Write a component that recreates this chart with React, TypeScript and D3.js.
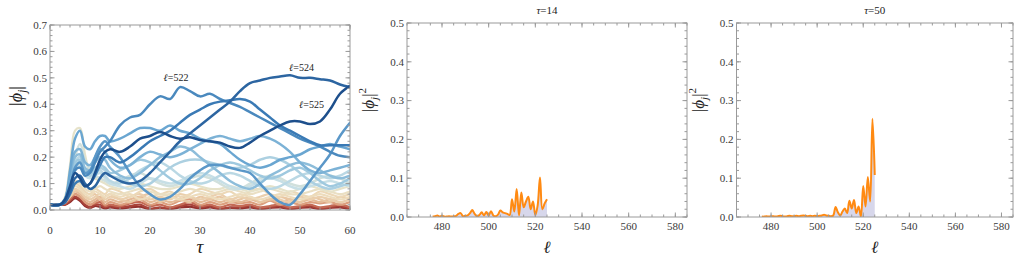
import React from 'react';
import * as d3 from 'd3';

// ---------- data ----------
const TAU = [0, 2, 3, 4, 5, 6, 7, 8, 9, 10, 11, 12, 14, 16, 18, 20, 22, 24, 26, 28, 30, 32, 34, 36, 38, 40, 42, 44, 46, 48, 50, 52, 54, 56, 58, 60];

const L525 = [0.02,0.02,0.04,0.09,0.14,0.12,0.09,0.10,0.14,0.19,0.22,0.23, 0.22,0.24,0.27,0.28,0.295,0.28,0.27,0.275,0.265,0.26, 0.255,0.24,0.235,0.255,0.28,0.30,0.32,0.335,0.335,0.325, 0.335,0.38,0.44,0.47];
const L524 = [0.02,0.02,0.03,0.07,0.12,0.13,0.10,0.08,0.09,0.12,0.14,0.13, 0.11,0.10,0.11,0.14,0.18,0.22,0.26,0.29,0.32,0.35, 0.38,0.41,0.45,0.48,0.49,0.50,0.505,0.51,0.50,0.50, 0.495,0.49,0.475,0.465];
const L523 = [0.02,0.02,0.03,0.06,0.10,0.11,0.09,0.10,0.13,0.17,0.20,0.20, 0.18,0.20,0.23,0.26,0.28,0.30,0.33,0.36,0.38,0.40, 0.41,0.415,0.42,0.41,0.38,0.35,0.32,0.30,0.28,0.26, 0.245,0.245,0.245,0.245];
const L522 = [0.02,0.02,0.03,0.08,0.15,0.16,0.13,0.14,0.18,0.22,0.24,0.26, 0.32,0.35,0.36,0.40,0.43,0.42,0.465,0.45,0.43,0.44, 0.42,0.405,0.39,0.37,0.35,0.33,0.31,0.29,0.27,0.255, 0.24,0.22,0.205,0.20];
const L521 = [0.02,0.02,0.03,0.08,0.16,0.18,0.14,0.15,0.20,0.24,0.26,0.24, 0.20,0.14,0.09,0.06,0.04,0.05,0.08,0.12,0.15,0.17, 0.17,0.16,0.15,0.14,0.10,0.06,0.03,0.02,0.06,0.11, 0.16,0.21,0.28,0.33];
const L520 = [0.02,0.02,0.04,0.15,0.27,0.30,0.24,0.23,0.26,0.28,0.28,0.26, 0.27,0.29,0.31,0.31,0.30,0.32,0.30,0.29,0.27,0.26, 0.25,0.22,0.19,0.17,0.16,0.17,0.19,0.20,0.21,0.23, 0.24,0.25,0.24,0.23];
const L519 = [0.02,0.02,0.04,0.13,0.22,0.23,0.18,0.17,0.20,0.23,0.22,0.19, 0.16,0.17,0.20,0.22,0.21,0.20,0.21,0.23,0.25,0.27, 0.28,0.27,0.26,0.27,0.28,0.27,0.25,0.22,0.18,0.15, 0.14,0.15,0.16,0.17];
const L518 = [0.02,0.02,0.04,0.12,0.20,0.21,0.16,0.15,0.18,0.20,0.19,0.16, 0.13,0.12,0.14,0.17,0.20,0.22,0.24,0.23,0.20,0.17, 0.14,0.11,0.09,0.08,0.10,0.13,0.15,0.17,0.18,0.17, 0.15,0.13,0.12,0.13];
const L517 = [0.02,0.02,0.04,0.11,0.18,0.19,0.15,0.14,0.16,0.17,0.16,0.14, 0.15,0.17,0.19,0.18,0.15,0.12,0.10,0.10,0.12,0.15, 0.17,0.18,0.17,0.15,0.13,0.12,0.13,0.15,0.16,0.14, 0.11,0.09,0.10,0.12];
const L516 = [0.02,0.02,0.04,0.10,0.17,0.18,0.14,0.13,0.15,0.16,0.15,0.13, 0.12,0.10,0.09,0.10,0.13,0.16,0.18,0.19,0.19,0.18, 0.17,0.16,0.16,0.17,0.19,0.20,0.19,0.17,0.14,0.11, 0.09,0.08,0.09,0.10];
const L515 = [0.02,0.02,0.04,0.10,0.18,0.20,0.15,0.13,0.14,0.15,0.13,0.11, 0.10,0.12,0.15,0.17,0.18,0.16,0.13,0.11,0.10,0.11, 0.13,0.14,0.13,0.11,0.09,0.08,0.09,0.11,0.13,0.14, 0.13,0.12,0.13,0.15];
const L514 = [0.02,0.02,0.04,0.09,0.16,0.17,0.13,0.12,0.13,0.14,0.12,0.10, 0.09,0.08,0.10,0.12,0.11,0.10,0.11,0.13,0.14,0.13, 0.11,0.09,0.08,0.09,0.11,0.12,0.11,0.09,0.08,0.09, 0.10,0.11,0.10,0.09];
const L513 = [0.02,0.02,0.04,0.10,0.20,0.25,0.19,0.15,0.13,0.12,0.11,0.10, 0.11,0.13,0.14,0.12,0.10,0.09,0.10,0.12,0.13,0.12, 0.10,0.08,0.08,0.10,0.12,0.13,0.12,0.10,0.09,0.10, 0.12,0.13,0.12,0.10];
const L511 = [0.02,0.02,0.05,0.17,0.30,0.31,0.21,0.14,0.12,0.11,0.10,0.09, 0.08,0.09,0.10,0.09,0.08,0.08,0.09,0.10,0.09,0.08, 0.08,0.09,0.08,0.07,0.08,0.09,0.08,0.07,0.08,0.09, 0.08,0.07,0.08,0.09];
const L509 = [0.02,0.02,0.04,0.08,0.11,0.10,0.08,0.07,0.08,0.09,0.08,0.07, 0.06,0.07,0.08,0.07,0.06,0.06,0.07,0.08,0.07,0.06, 0.07,0.08,0.07,0.06,0.07,0.08,0.07,0.06,0.06,0.07, 0.08,0.07,0.06,0.07];
const L507 = [0.02,0.02,0.03,0.06,0.09,0.08,0.06,0.05,0.07,0.06,0.05,0.06, 0.05,0.06,0.04,0.05,0.06,0.05,0.04,0.05,0.06,0.05, 0.04,0.05,0.06,0.05,0.04,0.05,0.06,0.05,0.04,0.05, 0.06,0.05,0.04,0.05];
const L506 = [0.02,0.02,0.03,0.06,0.10,0.09,0.07,0.06,0.08,0.07,0.06,0.08, 0.07,0.05,0.07,0.08,0.06,0.07,0.05,0.06,0.08,0.07, 0.06,0.07,0.05,0.07,0.08,0.06,0.05,0.07,0.06,0.05, 0.07,0.06,0.05,0.06];
const L504 = [0.02,0.02,0.03,0.05,0.08,0.07,0.05,0.04,0.05,0.06,0.04,0.05, 0.04,0.05,0.06,0.04,0.05,0.04,0.06,0.05,0.04,0.05, 0.06,0.04,0.05,0.04,0.05,0.06,0.04,0.03,0.05,0.04, 0.05,0.04,0.03,0.04];
const L502 = [0.02,0.02,0.03,0.05,0.07,0.07,0.05,0.05,0.06,0.04,0.05,0.06, 0.04,0.03,0.05,0.06,0.03,0.05,0.04,0.03,0.05,0.04, 0.05,0.03,0.04,0.05,0.03,0.04,0.05,0.04,0.03,0.05, 0.04,0.03,0.05,0.04];
const L500 = [0.02,0.02,0.03,0.05,0.07,0.06,0.04,0.03,0.04,0.05,0.03,0.04, 0.03,0.04,0.05,0.03,0.04,0.03,0.04,0.05,0.03,0.04, 0.03,0.04,0.03,0.04,0.03,0.04,0.03,0.04,0.03,0.04, 0.03,0.04,0.03,0.04];
const L496 = [0.02,0.02,0.03,0.05,0.06,0.05,0.03,0.02,0.03,0.04,0.02,0.03, 0.02,0.03,0.04,0.02,0.03,0.02,0.035,0.04,0.02,0.03, 0.02,0.03,0.025,0.03,0.02,0.035,0.02,0.03,0.02,0.03, 0.025,0.03,0.02,0.03];
const L490 = [0.02,0.02,0.025,0.04,0.06,0.05,0.03,0.02,0.025,0.03,0.015,0.02, 0.015,0.025,0.03,0.015,0.02,0.01,0.02,0.03,0.015,0.02, 0.01,0.02,0.015,0.02,0.01,0.015,0.02,0.01,0.015,0.02, 0.01,0.015,0.02,0.01];
const L484 = [0.02,0.02,0.02,0.035,0.05,0.04,0.02,0.01,0.02,0.02,0.01,0.015, 0.01,0.015,0.02,0.005,0.01,0.005,0.015,0.02,0.01,0.015, 0.005,0.01,0.01,0.015,0.005,0.01,0.015,0.005,0.01,0.015, 0.005,0.01,0.015,0.005];
const L478 = [0.02,0.02,0.02,0.03,0.045,0.035,0.015,0.008,0.015,0.012,0.006,0.01, 0.006,0.01,0.012,0.004,0.008,0.004,0.01,0.012,0.006,0.01, 0.004,0.008,0.006,0.01,0.004,0.008,0.01,0.004,0.008,0.01, 0.004,0.008,0.01,0.004];

const SERIES: { ell: number; values: number[] }[] = [
  { ell: 478, values: L478 }, { ell: 484, values: L484 }, { ell: 490, values: L490 },
  { ell: 496, values: L496 }, { ell: 500, values: L500 }, { ell: 502, values: L502 },
  { ell: 504, values: L504 }, { ell: 506, values: L506 }, { ell: 507, values: L507 },
  { ell: 509, values: L509 }, { ell: 511, values: L511 }, { ell: 513, values: L513 },
  { ell: 514, values: L514 }, { ell: 515, values: L515 }, { ell: 516, values: L516 },
  { ell: 517, values: L517 }, { ell: 518, values: L518 }, { ell: 519, values: L519 },
  { ell: 520, values: L520 }, { ell: 521, values: L521 }, { ell: 522, values: L522 },
  { ell: 523, values: L523 }, { ell: 524, values: L524 }, { ell: 525, values: L525 },
];

const LINE_LABELS = [
  { ell: 522, tau: 25.2, v: 0.487 },
  { ell: 524, tau: 50.3, v: 0.527 },
  { ell: 525, tau: 52.3, v: 0.385 },
];

// |phi_l|^2 at tau = 14 and tau = 50, for l = 476 .. 525
const ELL_START = 476;
const P14 = [
  0.001, 0.002, 0.004, 0.001, 0.003, 0.001, 0.001, 0.002, 0.001, 0.002,
  0.003, 0.008, 0.010, 0.002, 0.003, 0.004, 0.010, 0.018, 0.008, 0.002,
  0.005, 0.012, 0.004, 0.013, 0.004, 0.015, 0.004, 0.002, 0.006, 0.017,
  0.012, 0.010, 0.008, 0.005, 0.046, 0.014, 0.072, 0.004, 0.063, 0.025,
  0.040, 0.052, 0.020, 0.040, 0.005, 0.030, 0.102, 0.020, 0.035, 0.046,
];
const P50 = [
  0.001, 0.001, 0.002, 0.001, 0.002, 0.002, 0.001, 0.002, 0.003, 0.002,
  0.001, 0.002, 0.003, 0.002, 0.002, 0.003, 0.002, 0.003, 0.004, 0.003,
  0.002, 0.003, 0.002, 0.003, 0.002, 0.003, 0.004, 0.006, 0.004, 0.003,
  0.002, 0.004, 0.026, 0.012, 0.004, 0.014, 0.022, 0.010, 0.042, 0.022,
  0.044, 0.010, 0.027, 0.001, 0.080, 0.027, 0.103, 0.040, 0.253, 0.108,
];

const LEFT_X_TICKS = [0, 10, 20, 30, 40, 50, 60];
const LEFT_Y_TICKS = [0, 0.1, 0.2, 0.3, 0.4, 0.5, 0.6, 0.7];
const SNAP_X_TICKS = [480, 500, 520, 540, 560, 580];
const SNAP_Y_TICKS = [0, 0.1, 0.2, 0.3, 0.4, 0.5];

// ---------- styles ----------
const SERIF = "'Liberation Serif', 'Times New Roman', 'DejaVu Serif', serif";
const FRAME = '#9a9a9a';
const TICKTXT = '#3a3a3a';

const ellColor = d3
  .scaleLinear<string>()
  .domain([476, 484, 490, 496, 502, 507, 511, 514, 517, 520, 523, 525])
  .range(['#8b2a2a', '#a9433a', '#c46a55', '#dca07f', '#e8c7a3', '#eddcbc', '#e6e2c9', '#c7dfe6', '#9fc9df', '#6aa6d1', '#3a7ab5', '#1d4f8c'])
  .interpolate(d3.interpolateRgb)
  .clamp(true);

type FrameProps = {
  x: d3.ScaleLinear<number, number>;
  y: d3.ScaleLinear<number, number>;
  xTicks: number[];
  xMinor: number[];
  yTicks: number[];
  yMinor: number[];
  xFmt: (v: number) => string;
  yFmt: (v: number) => string;
  xLabelBaseline: number;
};

function Frame({ x, y, xTicks, xMinor, yTicks, yMinor, xFmt, yFmt, xLabelBaseline }: FrameProps) {
  const [x0, x1] = x.range();
  const [y0, y1] = y.range(); // y0 bottom, y1 top
  const maj = 4.5;
  const min = 2.5;
  return (
    <g>
      <rect x={x0} y={y1} width={x1 - x0} height={y0 - y1} fill="none" stroke={FRAME} strokeWidth={1} />
      {xMinor.map((t) => (
        <g key={'xm' + t}>
          <line x1={x(t)} x2={x(t)} y1={y0} y2={y0 - min} stroke={FRAME} />
          <line x1={x(t)} x2={x(t)} y1={y1} y2={y1 + min} stroke={FRAME} />
        </g>
      ))}
      {xTicks.map((t) => (
        <g key={'x' + t}>
          <line x1={x(t)} x2={x(t)} y1={y0} y2={y0 - maj} stroke={FRAME} />
          <line x1={x(t)} x2={x(t)} y1={y1} y2={y1 + maj} stroke={FRAME} />
          <text x={x(t)} y={xLabelBaseline} textAnchor="middle" fontSize={11} fill={TICKTXT} fontFamily={SERIF}>
            {xFmt(t)}
          </text>
        </g>
      ))}
      {yMinor.map((t) => (
        <g key={'ym' + t}>
          <line x1={x0} x2={x0 + min} y1={y(t)} y2={y(t)} stroke={FRAME} />
          <line x1={x1} x2={x1 - min} y1={y(t)} y2={y(t)} stroke={FRAME} />
        </g>
      ))}
      {yTicks.map((t) => (
        <g key={'y' + t}>
          <line x1={x0} x2={x0 + maj} y1={y(t)} y2={y(t)} stroke={FRAME} />
          <line x1={x1} x2={x1 - maj} y1={y(t)} y2={y(t)} stroke={FRAME} />
          <text x={x0 - 3} y={y(t) + 3.8} textAnchor="end" fontSize={11} fill={TICKTXT} fontFamily={SERIF}>
            {yFmt(t)}
          </text>
        </g>
      ))}
    </g>
  );
}

function Snapshot({ id, values, x, y, title }: { id: string; values: number[]; x: d3.ScaleLinear<number, number>; y: d3.ScaleLinear<number, number>; title: string }) {
  const pts: [number, number][] = values.map((v, i) => [ELL_START + i, v]);
  const line = d3
    .line<[number, number]>()
    .x((d) => x(d[0]))
    .y((d) => y(d[1]))
    .curve(d3.curveCatmullRom.alpha(0.5));
  const area = d3
    .area<[number, number]>()
    .x((d) => x(d[0]))
    .y0(y(0))
    .y1((d) => y(d[1]))
    .curve(d3.curveCatmullRom.alpha(0.5));
  const [x0, x1] = x.range();
  const [y0, y1] = y.range();
  const cx = (x0 + x1) / 2;
  return (
    <g>
      <defs>
        <clipPath id={id}>
          <rect x={x0} y={y1} width={x1 - x0} height={y0 - y1} />
        </clipPath>
      </defs>
      <g clipPath={`url(#${id})`}>
        <path d={area(pts) || ''} fill="#c9c9e4" fillOpacity={0.75} />
        <path d={line(pts) || ''} fill="none" stroke="#ff8a12" strokeWidth={2} strokeLinejoin="round" />
      </g>
      <Frame
        x={x}
        y={y}
        xTicks={SNAP_X_TICKS}
        xMinor={d3.range(465, 586, 5)}
        yTicks={SNAP_Y_TICKS}
        yMinor={d3.range(0, 0.5001, 0.02)}
        xFmt={(v) => String(v)}
        yFmt={(v) => v.toFixed(1)}
        xLabelBaseline={230}
      />
      <text x={cx} y={14} textAnchor="middle" fontSize={11} fill="#222" fontFamily={SERIF}>
        <tspan fontStyle="italic">τ</tspan>={title}
      </text>
      <text x={cx} y={253} textAnchor="middle" fontSize={17} fill="#222" fontFamily={SERIF} fontStyle="italic">
        ℓ
      </text>
      <text transform={`translate(${x0 - 33},100) rotate(-90)`} textAnchor="middle" fontSize={17} fill="#222" fontFamily={SERIF}>
        |<tspan fontStyle="italic">ϕ</tspan>
        <tspan fontStyle="italic" fontSize={11} dy={4}>j</tspan>
        <tspan dy={-4}>|</tspan>
        <tspan fontSize={11} dy={-8}>2</tspan>
      </text>
    </g>
  );
}

export default function App() {
  const xL = d3.scaleLinear().domain([0, 60]).range([50, 350]);
  const yL = d3.scaleLinear().domain([0, 0.7]).range([210, 25]);
  const xM = d3.scaleLinear().domain([465, 585]).range([407, 687]);
  const xR = d3.scaleLinear().domain([465, 585]).range([736.5, 1013]);
  const yS = d3.scaleLinear().domain([0, 0.5]).range([217, 23]);

  const line = d3
    .line<number>()
    .x((_, i) => xL(TAU[i]))
    .y((d) => yL(d))
    .curve(d3.curveCatmullRom.alpha(0.5));

  return (
    <svg width={1024} height={261} style={{ position: 'absolute', left: 0, top: 0, background: '#fff' }}>
      <rect width={1024} height={261} fill="#fff" />
      <defs>
        <clipPath id="clipL">
          <rect x={50} y={25} width={300} height={185} />
        </clipPath>
      </defs>
      <g clipPath="url(#clipL)">
        {SERIES.map((s) => (
          <path
            key={s.ell}
            d={line(s.values) || ''}
            fill="none"
            stroke={ellColor(s.ell)}
            strokeWidth={s.ell >= 513 ? 2.5 : 2.2}
            strokeLinejoin="round"
            strokeLinecap="round"
          />
        ))}
      </g>
      <Frame
        x={xL}
        y={yL}
        xTicks={LEFT_X_TICKS}
        xMinor={d3.range(0, 61, 2)}
        yTicks={LEFT_Y_TICKS}
        yMinor={d3.range(0, 0.7001, 0.02)}
        xFmt={(v) => String(v)}
        yFmt={(v) => v.toFixed(1)}
        xLabelBaseline={234}
      />
      {LINE_LABELS.map((l) => (
        <text key={l.ell} x={xL(l.tau)} y={yL(l.v)} textAnchor="middle" fontSize={10} fill="#222" fontFamily={SERIF}>
          <tspan fontStyle="italic">ℓ</tspan>={l.ell}
        </text>
      ))}
      <text x={200} y={253} textAnchor="middle" fontSize={19} fill="#222" fontFamily={SERIF} fontStyle="italic">
        τ
      </text>
      <text transform="translate(22,96) rotate(-90)" textAnchor="middle" fontSize={18} fill="#222" fontFamily={SERIF}>
        |<tspan fontStyle="italic">ϕ</tspan>
        <tspan fontStyle="italic" fontSize={12} dy={4}>j</tspan>
        <tspan dy={-4}>|</tspan>
      </text>

      <Snapshot id="clipM" values={P14} x={xM} y={yS} title="14" />
      <Snapshot id="clipR" values={P50} x={xR} y={yS} title="50" />
    </svg>
  );
}
